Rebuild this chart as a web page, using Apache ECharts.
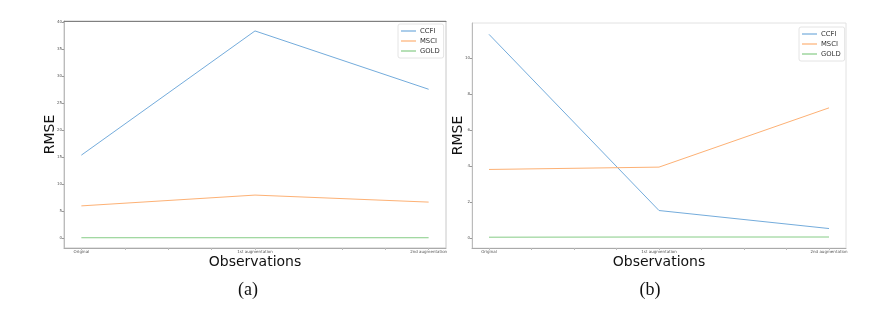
<!DOCTYPE html>
<html>
<head>
<meta charset="utf-8">
<script src="https://cdn.jsdelivr.net/npm/echarts@6/dist/echarts.min.js"></script>
<style>html,body{margin:0;padding:0;background:#fff}#c{width:887px;height:315px}</style>
</head>
<body>
<div id="c"></div>
<script>
const categories = ['Original', '1st augmentation', '2nd augmentation'];
const seriesNames = ['CCFI', 'MSCI', 'GOLD'];
const aCCFI = [15.4, 38.4, 27.6];
const aMSCI = [6.0, 8.0, 6.7];
const aGOLD = [0.1, 0.1, 0.1];
const bCCFI = [11.3, 1.52, 0.52];
const bMSCI = [3.8, 3.93, 7.22];
const bGOLD = [0.04, 0.05, 0.05];
const aYTicks = [0, 5, 10, 15, 20, 25, 30, 35, 40];
const bYTicks = [0, 2, 4, 6, 8, 10];
const xLabelPos = [0, 1, 2];
const xTickPos = [0, 0.25, 0.5, 0.75, 1, 1.25, 1.5, 1.75, 2];
const colors = ['#74acdc', '#fdb175', '#86cc86'];

const FONT = 'DejaVu Sans';
const toPts = arr => arr.map((v, i) => [i, v]);

function xAxis(gridIndex) {
  return {
    type: 'value', gridIndex, min: -0.1, max: 2.1,
    name: 'Observations', nameLocation: 'middle', nameGap: 7, nameMoveOverlap: false,
    nameTextStyle: { fontFamily: FONT, fontSize: 14, color: '#111', verticalAlign: 'top' },
    axisLine: { show: true, onZero: false, lineStyle: { color: '#aaa', width: 1 } },
    axisTick: { show: true, length: 2, customValues: xTickPos, lineStyle: { color: '#bbb' } },
    axisLabel: { customValues: xLabelPos, fontFamily: FONT, fontSize: 4, color: '#555', margin: 2,
      formatter: v => categories[Math.round(v)] },
    splitLine: { show: false }
  };
}
function yAxis(gridIndex, min, max, ticks) {
  return {
    type: 'value', gridIndex, min, max,
    name: 'RMSE', nameLocation: 'middle', nameGap: 7, nameRotate: 90, nameMoveOverlap: false,
    nameTextStyle: { fontFamily: FONT, fontSize: 14, color: '#111', verticalAlign: 'bottom' },
    axisLine: { show: true, onZero: false, lineStyle: { color: '#bbb', width: 1 } },
    axisTick: { show: true, length: 2, customValues: ticks, lineStyle: { color: '#999' } },
    axisLabel: { customValues: ticks, fontFamily: FONT, fontSize: 4, color: '#555', margin: 2 },
    splitLine: { show: false }
  };
}
function line(name, data, idx, color) {
  return {
    type: 'line', name, xAxisIndex: idx, yAxisIndex: idx, data: toPts(data),
    symbol: 'none', lineStyle: { color, width: 1 }, itemStyle: { color }, silent: true
  };
}
function legend(left, top) {
  return {
    data: seriesNames.map(n => ({ name: n, icon: 'rect' })), orient: 'vertical', left, top,
    itemWidth: 15, itemHeight: 1.2, itemGap: 0,
    padding: [2, 4, 2, 3],
    backgroundColor: '#fff', borderColor: '#e4e4e4', borderWidth: 1, borderRadius: 2,
    textStyle: { fontFamily: FONT, fontSize: 6.8, color: '#333', lineHeight: 10, padding: [0, 0, 0, -1] }
  };
}

const chart = echarts.init(document.getElementById('c'), null, { renderer: 'canvas' });
chart.setOption({
  animation: false,
  backgroundColor: '#fff',
  grid: [
    { left: 64, top: 21, width: 382, height: 227, show: true, borderColor: '#c8c8c8', borderWidth: 1 },
    { left: 472, top: 23, width: 374, height: 225, show: true, borderColor: '#e2e2e2', borderWidth: 1 }
  ],
  xAxis: [xAxis(0), xAxis(1),
    { type: 'value', gridIndex: 0, position: 'top', min: -0.1, max: 2.1,
      axisLine: { show: true, onZero: false, lineStyle: { color: '#808080' } }, axisTick: { show: false },
      axisLabel: { show: false }, splitLine: { show: false } }],
  yAxis: [yAxis(0, -1.8, 40.24, aYTicks), yAxis(1, -0.56, 11.93, bYTicks)],
  legend: [legend(398, 24), legend(799, 27)],
  title: [
    { text: '(a)', left: 243, top: 276, textAlign: 'center',
      textStyle: { fontFamily: 'Liberation Serif', fontSize: 18, fontWeight: 'normal', color: '#111' } },
    { text: '(b)', left: 645, top: 276, textAlign: 'center',
      textStyle: { fontFamily: 'Liberation Serif', fontSize: 18, fontWeight: 'normal', color: '#111' } }
  ],
  series: [
    line('CCFI', aCCFI, 0, colors[0]),
    line('MSCI', aMSCI, 0, colors[1]),
    line('GOLD', aGOLD, 0, colors[2]),
    line('CCFI', bCCFI, 1, colors[0]),
    line('MSCI', bMSCI, 1, colors[1]),
    line('GOLD', bGOLD, 1, colors[2])
  ]
});
</script>
</body>
</html>
